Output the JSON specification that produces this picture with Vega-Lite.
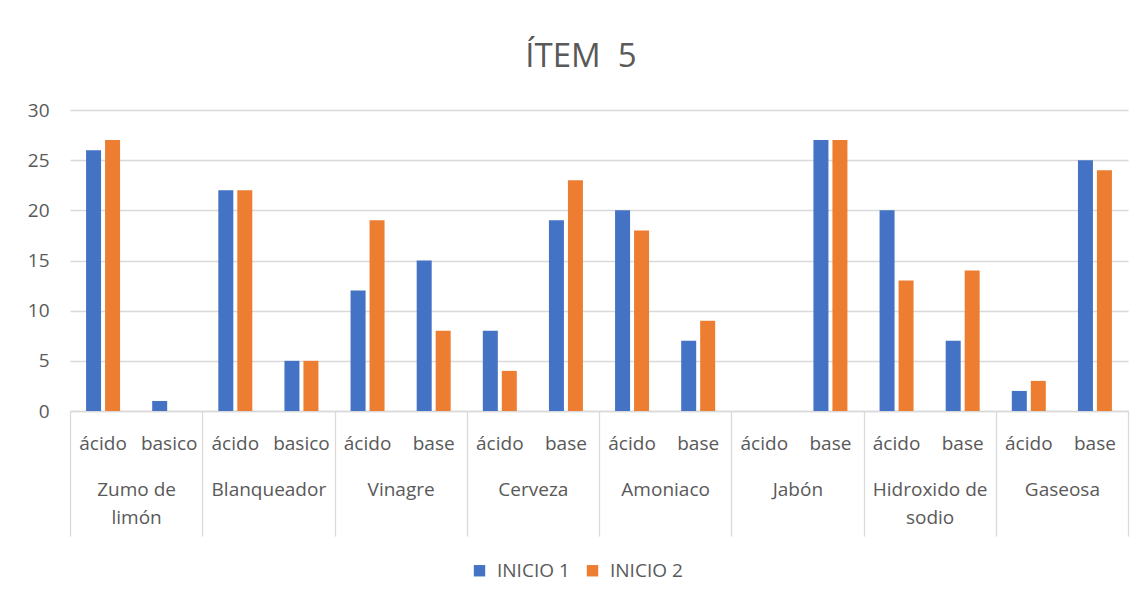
{
  "$schema": "https://vega.github.io/schema/vega-lite/v6.json",
  "width": 1058,
  "height": 301,
  "autosize": {"type": "none"},
  "padding": {"left": 70, "top": 110, "right": 15, "bottom": 192},
  "background": "white",
  "title": {"text": "ÍTEM\u00a0 5", "fontSize": 33, "font": "Open Sans", "fontWeight": "normal", "color": "#595959", "anchor": "middle", "offset": 27, "dx": -18},
  "config": {"view": {"stroke": null}, "font": "Open Sans"},
  "data": {"values": [
    {"grupo": "Zumo de limón", "tipo": "ácido", "categoria": "Zumo de limón|ácido", "serie": "INICIO 1", "valor": 26},
    {"grupo": "Zumo de limón", "tipo": "ácido", "categoria": "Zumo de limón|ácido", "serie": "INICIO 2", "valor": 27},
    {"grupo": "Zumo de limón", "tipo": "basico", "categoria": "Zumo de limón|basico", "serie": "INICIO 1", "valor": 1},
    {"grupo": "Zumo de limón", "tipo": "basico", "categoria": "Zumo de limón|basico", "serie": "INICIO 2", "valor": 0},
    {"grupo": "Blanqueador", "tipo": "ácido", "categoria": "Blanqueador|ácido", "serie": "INICIO 1", "valor": 22},
    {"grupo": "Blanqueador", "tipo": "ácido", "categoria": "Blanqueador|ácido", "serie": "INICIO 2", "valor": 22},
    {"grupo": "Blanqueador", "tipo": "basico", "categoria": "Blanqueador|basico", "serie": "INICIO 1", "valor": 5},
    {"grupo": "Blanqueador", "tipo": "basico", "categoria": "Blanqueador|basico", "serie": "INICIO 2", "valor": 5},
    {"grupo": "Vinagre", "tipo": "ácido", "categoria": "Vinagre|ácido", "serie": "INICIO 1", "valor": 12},
    {"grupo": "Vinagre", "tipo": "ácido", "categoria": "Vinagre|ácido", "serie": "INICIO 2", "valor": 19},
    {"grupo": "Vinagre", "tipo": "base", "categoria": "Vinagre|base", "serie": "INICIO 1", "valor": 15},
    {"grupo": "Vinagre", "tipo": "base", "categoria": "Vinagre|base", "serie": "INICIO 2", "valor": 8},
    {"grupo": "Cerveza", "tipo": "ácido", "categoria": "Cerveza|ácido", "serie": "INICIO 1", "valor": 8},
    {"grupo": "Cerveza", "tipo": "ácido", "categoria": "Cerveza|ácido", "serie": "INICIO 2", "valor": 4},
    {"grupo": "Cerveza", "tipo": "base", "categoria": "Cerveza|base", "serie": "INICIO 1", "valor": 19},
    {"grupo": "Cerveza", "tipo": "base", "categoria": "Cerveza|base", "serie": "INICIO 2", "valor": 23},
    {"grupo": "Amoniaco", "tipo": "ácido", "categoria": "Amoniaco|ácido", "serie": "INICIO 1", "valor": 20},
    {"grupo": "Amoniaco", "tipo": "ácido", "categoria": "Amoniaco|ácido", "serie": "INICIO 2", "valor": 18},
    {"grupo": "Amoniaco", "tipo": "base", "categoria": "Amoniaco|base", "serie": "INICIO 1", "valor": 7},
    {"grupo": "Amoniaco", "tipo": "base", "categoria": "Amoniaco|base", "serie": "INICIO 2", "valor": 9},
    {"grupo": "Jabón", "tipo": "ácido", "categoria": "Jabón|ácido", "serie": "INICIO 1", "valor": 0},
    {"grupo": "Jabón", "tipo": "ácido", "categoria": "Jabón|ácido", "serie": "INICIO 2", "valor": 0},
    {"grupo": "Jabón", "tipo": "base", "categoria": "Jabón|base", "serie": "INICIO 1", "valor": 27},
    {"grupo": "Jabón", "tipo": "base", "categoria": "Jabón|base", "serie": "INICIO 2", "valor": 27},
    {"grupo": "Hidroxido de sodio", "tipo": "ácido", "categoria": "Hidroxido de sodio|ácido", "serie": "INICIO 1", "valor": 20},
    {"grupo": "Hidroxido de sodio", "tipo": "ácido", "categoria": "Hidroxido de sodio|ácido", "serie": "INICIO 2", "valor": 13},
    {"grupo": "Hidroxido de sodio", "tipo": "base", "categoria": "Hidroxido de sodio|base", "serie": "INICIO 1", "valor": 7},
    {"grupo": "Hidroxido de sodio", "tipo": "base", "categoria": "Hidroxido de sodio|base", "serie": "INICIO 2", "valor": 14},
    {"grupo": "Gaseosa", "tipo": "ácido", "categoria": "Gaseosa|ácido", "serie": "INICIO 1", "valor": 2},
    {"grupo": "Gaseosa", "tipo": "ácido", "categoria": "Gaseosa|ácido", "serie": "INICIO 2", "valor": 3},
    {"grupo": "Gaseosa", "tipo": "base", "categoria": "Gaseosa|base", "serie": "INICIO 1", "valor": 25},
    {"grupo": "Gaseosa", "tipo": "base", "categoria": "Gaseosa|base", "serie": "INICIO 2", "valor": 24}
  ]},
  "layer": [
    {
      "mark": {"type": "bar"},
      "encoding": {
        "x": {"field": "categoria", "type": "nominal", "sort": null,
          "scale": {"paddingInner": 0.486, "paddingOuter": 0.243},
          "axis": {"orient": "bottom", "title": null, "labelExpr": "split(datum.label, '|')[1]", "domain": false, "ticks": false, "labelAngle": 0, "labelPadding": 23, "labelFontSize": 19, "labelColor": "#595959", "labelFont": "Open Sans"}},
        "xOffset": {"field": "serie", "type": "nominal", "scale": {"paddingInner": 0.21}},
        "y": {"field": "valor", "type": "quantitative", "scale": {"domain": [0, 30]},
          "axis": {"title": null, "values": [0, 5, 10, 15, 20, 25, 30], "domain": false, "ticks": false, "gridColor": "#D9D9D9", "gridWidth": 1.3, "labelPadding": 21, "labelFontSize": 19, "labelColor": "#595959", "labelFont": "Open Sans"}},
        "color": {"field": "serie", "type": "nominal",
          "scale": {"domain": ["INICIO 1", "INICIO 2"], "range": ["#4472C4", "#ED7D31"]},
          "legend": {"title": null, "orient": "none", "legendX": 400, "legendY": 451, "padding": 0, "direction": "horizontal", "symbolType": "square", "symbolSize": 130, "symbolStrokeWidth": 0, "labelFontSize": 19, "labelColor": "#595959", "labelFont": "Open Sans", "labelOffset": 8, "columnPadding": 13}}
      }
    },
    {
      "mark": {"type": "point", "opacity": 0},
      "encoding": {
        "x": {"field": "grupo", "type": "nominal", "sort": null,
          "scale": {"paddingInner": 0, "paddingOuter": 0},
          "axis": {"orient": "bottom", "title": null, "labelAngle": 0, "tickBand": "extent", "tickSize": 125, "tickColor": "#D9D9D9", "tickWidth": 1.3, "domainColor": "#D9D9D9", "domainWidth": 1.3, "labelPadding": -56, "labelFontSize": 19, "labelColor": "#595959", "labelFont": "Open Sans", "labelLineHeight": 28, "labelBaseline": "top",
            "labelExpr": "datum.label == 'Zumo de limón' ? ['Zumo de', 'limón'] : datum.label == 'Hidroxido de sodio' ? ['Hidroxido de', 'sodio'] : datum.label"}},
        "y": {"field": "valor", "type": "quantitative"}
      }
    }
  ],
  "resolve": {"scale": {"x": "independent"}}
}
